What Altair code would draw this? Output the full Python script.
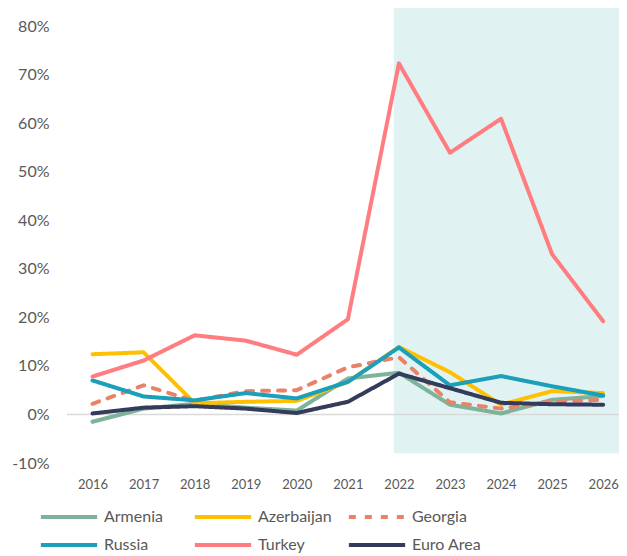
import altair as alt
import pandas as pd

years = list(range(2016, 2027))
countries = ["Armenia", "Azerbaijan", "Georgia", "Russia", "Turkey", "Euro Area"]
# legend fills column by column: order so rows read Armenia/Azerbaijan/Georgia, Russia/Turkey/Euro Area
legend_order = ["Armenia", "Russia", "Azerbaijan", "Turkey", "Georgia", "Euro Area"]
armenia = [-1.5, 1.2, 2.2, 1.4, 0.8, 7.4, 8.6, 2.0, 0.2, 3.0, 3.8]
azerbaijan = [12.4, 12.8, 2.3, 2.6, 2.8, 6.7, 13.9, 8.7, 2.0, 4.8, 4.4]
georgia = [2.2, 6.0, 2.8, 4.8, 5.0, 9.7, 11.8, 2.5, 1.2, 2.7, 3.0]
russia = [7.0, 3.7, 2.9, 4.4, 3.3, 6.7, 13.8, 6.0, 7.9, 5.8, 3.9]
turkey = [7.8, 11.1, 16.3, 15.2, 12.3, 19.6, 72.3, 53.9, 60.9, 33.0, 19.2]
euro_area = [0.2, 1.4, 1.7, 1.2, 0.3, 2.6, 8.4, 5.4, 2.4, 2.1, 2.0]
color_map = {
    "Armenia": "#7DB39A",
    "Azerbaijan": "#FFC000",
    "Georgia": "#E8836A",
    "Russia": "#1B9FBB",
    "Turkey": "#FF7C80",
    "Euro Area": "#353B5A",
}
dash_map = {
    "Armenia": [1, 0],
    "Azerbaijan": [1, 0],
    "Georgia": [7, 9],
    "Russia": [1, 0],
    "Turkey": [1, 0],
    "Euro Area": [1, 0],
}
y_ticks = [-10, 0, 10, 20, 30, 40, 50, 60, 70, 80]

# forecast shading band (data units)
shade_x = [2021.9]
shade_x2 = [2027.0]
shade_y = [-8]
shade_y2 = [84]

series = [armenia, azerbaijan, georgia, russia, turkey, euro_area]
rows = []
for c, vals in zip(countries, series):
    for yr, v in zip(years, vals):
        rows.append({"country": c, "year": yr, "value": v})
df = pd.DataFrame(rows)

shade_df = pd.DataFrame({"x": shade_x, "x2": shade_x2, "y": shade_y, "y2": shade_y2})
zero_df = pd.DataFrame({"y": [0]})

x_scale = alt.Scale(domain=[2015.5, 2026.31], nice=False, zero=False)
y_scale = alt.Scale(domain=[-10, 80], nice=False, zero=False)

shade = alt.Chart(shade_df).mark_rect(color="#E0F3F2", clip=False).encode(
    x=alt.X("x:Q", scale=x_scale),
    x2="x2:Q",
    y=alt.Y("y:Q", scale=y_scale),
    y2="y2:Q",
)

zero = alt.Chart(zero_df).mark_rule(color="#D9D9D9", strokeWidth=1.5).encode(
    y=alt.Y("y:Q", scale=y_scale)
)

lines = alt.Chart(df).mark_line(strokeWidth=4, strokeCap="round", strokeJoin="round").encode(
    x=alt.X(
        "year:Q",
        scale=x_scale,
        axis=alt.Axis(
            values=years, format="d", grid=False, domain=False, ticks=False,
            labelFontSize=13, labelColor="#595959", labelFont="Lato",
            labelPadding=15, title=None, labelFlush=False,
        ),
    ),
    y=alt.Y(
        "value:Q",
        scale=y_scale,
        axis=alt.Axis(
            values=y_ticks, labelExpr="datum.value + '%'", grid=False, domain=False,
            ticks=False, labelFontSize=16, labelColor="#595959", labelFont="Lato",
            labelPadding=18, title=None,
        ),
    ),
    color=alt.Color(
        "country:N",
        scale=alt.Scale(domain=legend_order, range=[color_map[c] for c in legend_order]),
        legend=alt.Legend(title=None),
    ),
    strokeDash=alt.StrokeDash(
        "country:N",
        scale=alt.Scale(domain=legend_order, range=[dash_map[c] for c in legend_order]),
        legend=alt.Legend(title=None),
    ),
    order=alt.Order("year:Q"),
)

chart = alt.layer(shade, zero, lines).properties(
    width=552,
    height=437,
    autosize=alt.AutoSizeParams(type="none"),
    padding={"left": 59, "top": 18, "right": 0, "bottom": 91},
).configure_view(stroke=None).configure_legend(
    orient="none",
    legendX=-6,
    legendY=483,
    columns=3,
    gridAlign="all",
    columnPadding=8,
    rowPadding=12,
    symbolType="M-6,0H6",
    symbolSize=88,
    symbolStrokeWidth=4,
    labelFontSize=16,
    labelFont="Lato",
    labelColor="#595959",
    labelOffset=27,
    padding=0,
    labelLimit=200,
)

chart.save("out.html", embed_options={"renderer": "svg", "actions": False})
